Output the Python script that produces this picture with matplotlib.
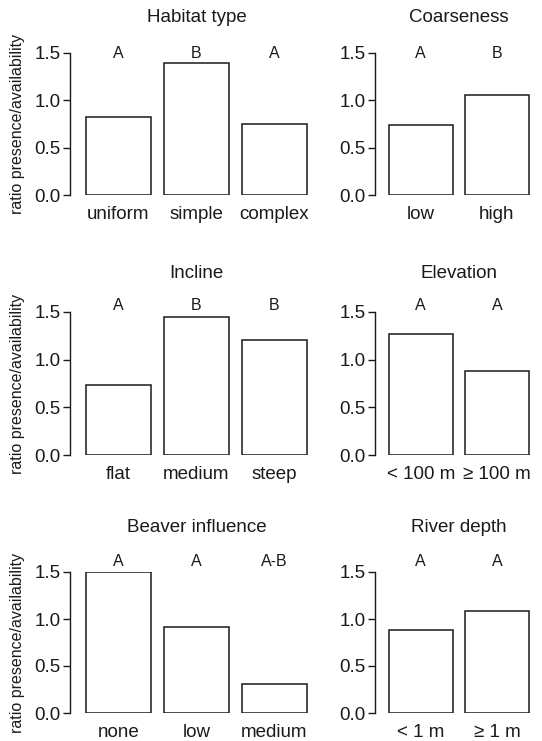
import matplotlib
matplotlib.use('Agg')
import matplotlib.pyplot as plt
import matplotlib.transforms as mtransforms
import numpy as np

plt.rcParams['font.family'] = ['Liberation Sans', 'DejaVu Sans']

# --- dados ---
titulos = ['Habitat type', 'Coarseness', 'Incline', 'Elevation', 'Beaver influence', 'River depth']

cat_habitat = ['uniform', 'simple', 'complex']
val_habitat = [0.82, 1.39, 0.75]
let_habitat = ['A', 'B', 'A']

cat_coarse = ['low', 'high']
val_coarse = [0.74, 1.06]
let_coarse = ['A', 'B']

cat_incline = ['flat', 'medium', 'steep']
val_incline = [0.73, 1.45, 1.21]
let_incline = ['A', 'B', 'B']

cat_elev = ['< 100 m', '\u2265 100 m']
val_elev = [1.27, 0.885]
let_elev = ['A', 'A']

cat_beaver = ['none', 'low', 'medium']
val_beaver = [1.50, 0.92, 0.31]
let_beaver = ['A', 'A', 'A-B']

cat_depth = ['< 1 m', '\u2265 1 m']
val_depth = [0.88, 1.08]
let_depth = ['A', 'A']

paineis = [
    (cat_habitat, val_habitat, let_habitat),
    (cat_coarse, val_coarse, let_coarse),
    (cat_incline, val_incline, let_incline),
    (cat_elev, val_elev, let_elev),
    (cat_beaver, val_beaver, let_beaver),
    (cat_depth, val_depth, let_depth),
]

# --- layout em pixels (figura 542x741) ---
W, H = 542, 741
fig = plt.figure(figsize=(W / 100, H / 100), dpi=100)

y_zero = [195, 455, 713]      # pixel do 0.0 em cada linha
y_top = [53, 312, 572]        # pixel do 1.5 em cada linha
y_titulo = [18, 273, 528]
y_letras = [53, 306, 561]
# (x do eixo, pixels por unidade, margem até a primeira barra)
colunas = [(70, 65.0, 16), (375, 63.5, 14)]

cor = '#1a1a1a'

for i, (cats, vals, lets) in enumerate(paineis):
    row, col = divmod(i, 2)
    x0, unit, margem = colunas[col]
    n = len(cats)
    # posições no estilo barplot do R: largura 1, espaço 0.2
    centros = 0.2 + np.arange(n) * 1.2 + 0.5
    xmin = 0.2 - margem / unit
    xmax = centros[-1] + 0.5 + margem / unit
    largura_px = min((xmax - xmin) * unit, W - 1 - x0)
    xmax = xmin + largura_px / unit

    ax = fig.add_axes([x0 / W, 1 - y_zero[row] / H, largura_px / W,
                       (y_zero[row] - y_top[row]) / H])
    ax.bar(centros, vals, width=1.0, color='white', edgecolor=cor, linewidth=1.1)
    ax.set_xlim(xmin, xmax)
    ax.set_ylim(0, 1.5)

    for s in ['top', 'right', 'bottom']:
        ax.spines[s].set_visible(False)
    ax.spines['left'].set_bounds(0, 1.5)
    ax.spines['left'].set_color(cor)
    ax.spines['left'].set_linewidth(1.0)

    ax.set_yticks([0, 0.5, 1.0, 1.5])
    ax.set_yticklabels(['0.0', '0.5', '1.0', '1.5'])
    ax.tick_params(axis='y', length=5, width=1.0, color=cor, pad=2,
                   labelsize=13.5, labelcolor=cor)
    ax.set_xticks(centros)
    ax.set_xticklabels(cats)
    ax.tick_params(axis='x', length=0, pad=8, labelsize=13.5, labelcolor=cor)

    if col == 0:
        fig.text(18 / W, 1 - (y_zero[row] + y_top[row]) / 2 / H,
                 'ratio presence/availability', rotation=90, ha='center',
                 va='center', fontsize=11.5, color=cor)

    cx = (x0 + (0.2 + (centros[-1] + 0.5 - 0.2) / 2 - xmin) * unit) / W
    fig.text(cx, 1 - y_titulo[row] / H, titulos[i], ha='center', va='center',
             fontsize=13.5, color=cor)

    trans = mtransforms.blended_transform_factory(ax.transData, fig.transFigure)
    for xc, lt in zip(centros, lets):
        ax.text(xc, 1 - y_letras[row] / H, lt, transform=trans, ha='center',
                va='center', fontsize=11.5, color=cor, clip_on=False)

fig.savefig('out.png', dpi=100, facecolor='white')
